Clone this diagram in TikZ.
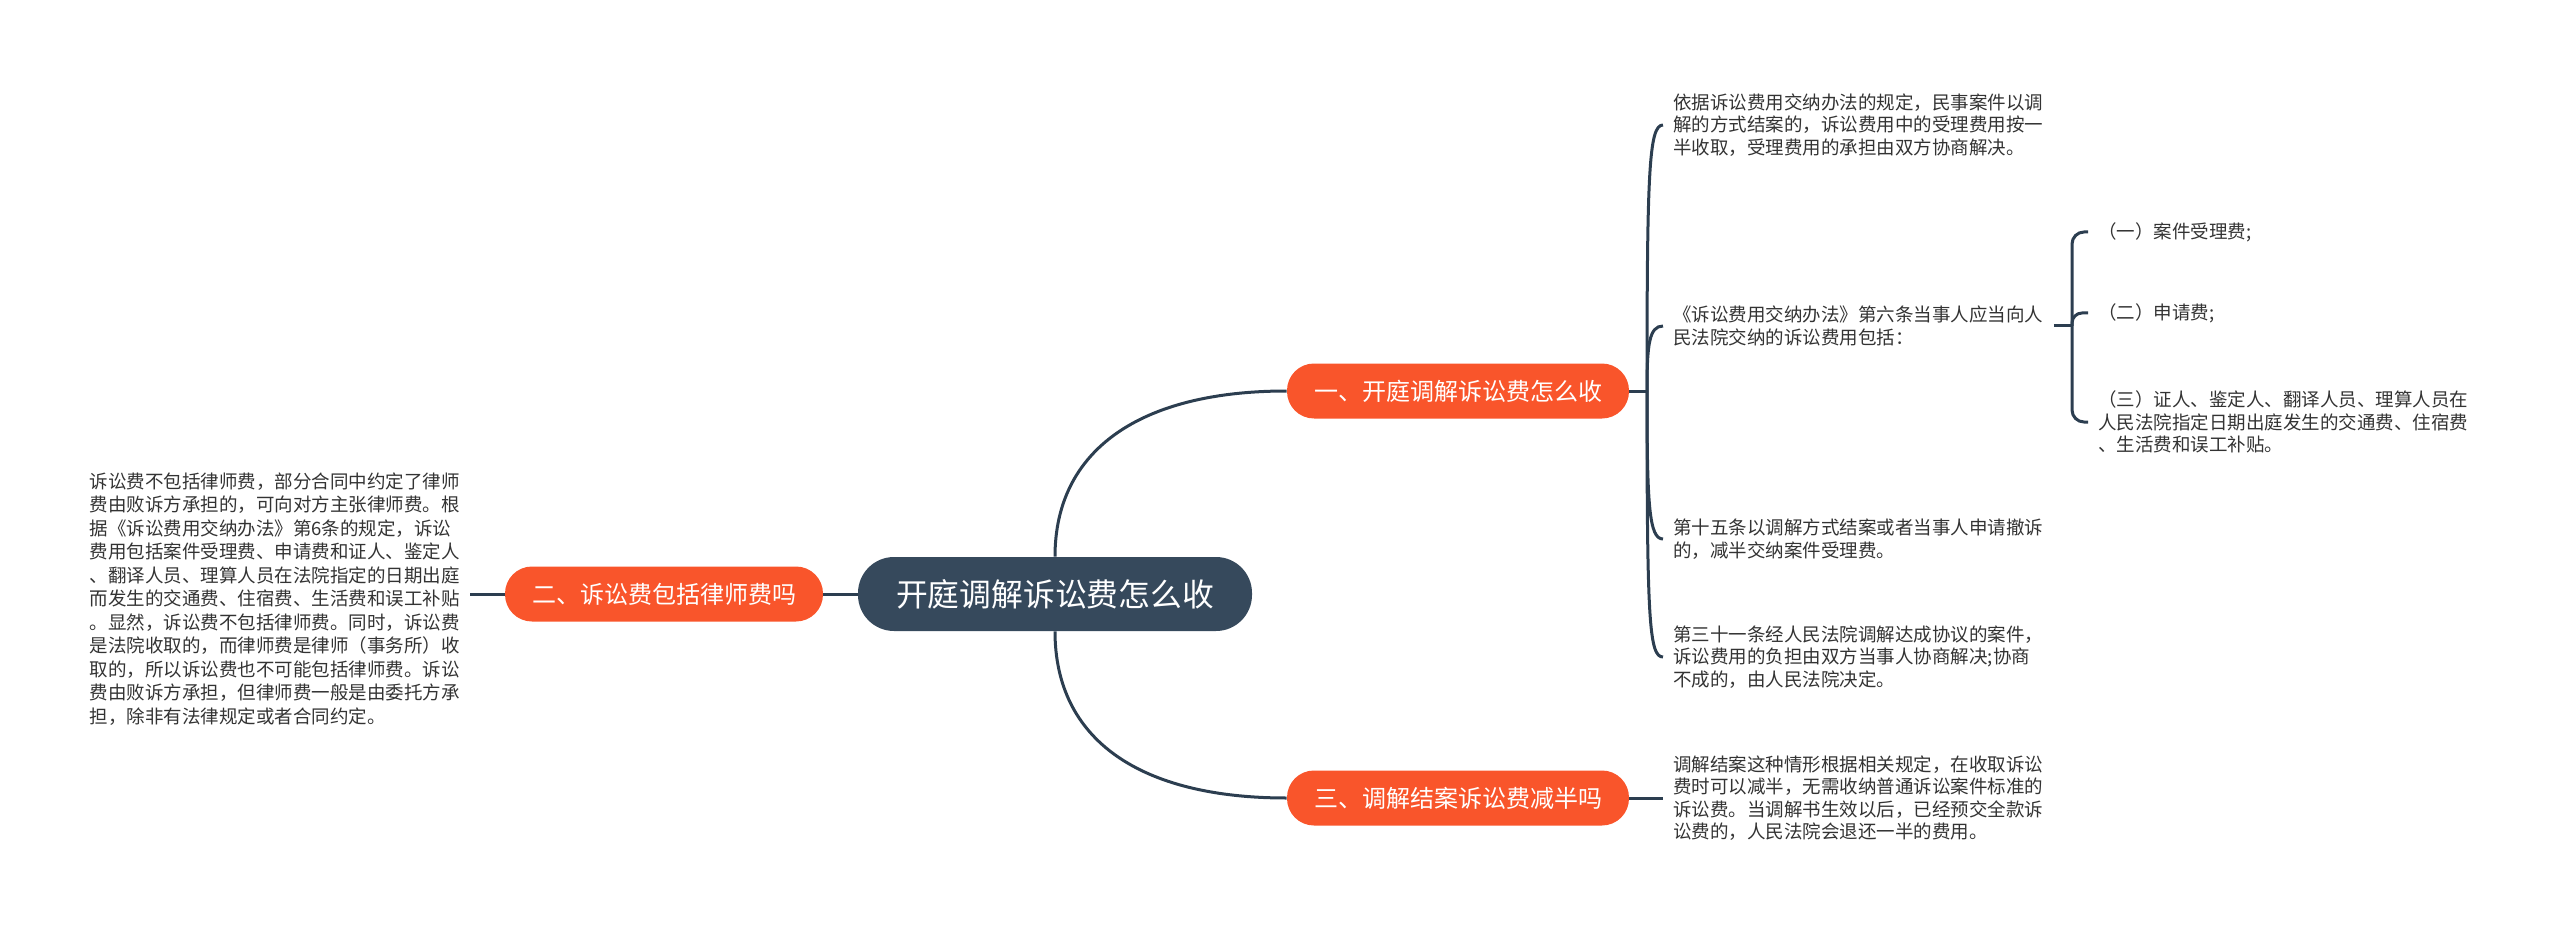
\documentclass[tikz,border=0pt]{standalone}
\usepackage{fontspec}
\newfontfamily\cjk{Noto Sans CJK SC}
\usepackage{tikz}
\definecolor{slate}{HTML}{36495C}
\definecolor{flame}{HTML}{F9552B}
\definecolor{linkcol}{HTML}{2C3E50}
\definecolor{ink}{HTML}{333333}

\begin{document}
\begin{tikzpicture}[x=0.5pt,y=-0.5pt,
  rootbox/.style={fill=slate,text=white,rounded corners=18pt,minimum width=197pt,minimum height=37pt,inner sep=0pt,font={\cjk\fontsize{15.9}{18}\selectfont}},
  branchbox/.style={fill=flame,text=white,rounded corners=13.5pt,minimum height=27.5pt,inner sep=0pt,font={\cjk\fontsize{12}{14}\selectfont}},
  leaftext/.style={text=ink,align=left,anchor=west,inner xsep=5pt,inner ysep=0pt,font={\cjk\fontsize{9.25}{11.25}\selectfont}},
  link/.style={draw=linkcol,line width=1.5pt}]
\useasboundingbox (0,0) rectangle (2560,936);

%root
\node[rootbox] (root) at (1055,594) {开庭调解诉讼费怎么收};

%branches
\node[branchbox,minimum width=171pt] (bOne) at (1458,391) {一、开庭调解诉讼费怎么收};
\node[branchbox,minimum width=159pt] (bTwo) at (664,594) {二、诉讼费包括律师费吗};
\node[branchbox,minimum width=171pt] (bThree) at (1458,798) {三、调解结案诉讼费减半吗};

%left text
\node[leaftext,anchor=east,font={\cjk\fontsize{9.25}{11.75}\selectfont}] (lText) at (470,599) {诉讼费不包括律师费，部分合同中约定了律师\\
费由败诉方承担的，可向对方主张律师费。根\\
据《诉讼费用交纳办法》第6条的规定，诉讼\\
费用包括案件受理费、申请费和证人、鉴定人\\
、翻译人员、理算人员在法院指定的日期出庭\\
而发生的交通费、住宿费、生活费和误工补贴\\
。显然，诉讼费不包括律师费。同时，诉讼费\\
是法院收取的，而律师费是律师（事务所）收\\
取的，所以诉讼费也不可能包括律师费。诉讼\\
费由败诉方承担，但律师费一般是由委托方承\\
担，除非有法律规定或者合同约定。};

%right texts
\node[leaftext] (tOne) at (1663,125) {依据诉讼费用交纳办法的规定，民事案件以调\\
解的方式结案的，诉讼费用中的受理费用按一\\
半收取，受理费用的承担由双方协商解决。};
\node[leaftext] (tTwo) at (1663,326) {《诉讼费用交纳办法》第六条当事人应当向人\\
民法院交纳的诉讼费用包括：};
\node[leaftext] (tThree) at (1663,539) {第十五条以调解方式结案或者当事人申请撤诉\\
的，减半交纳案件受理费。};
\node[leaftext] (tFour) at (1663,657) {第三十一条经人民法院调解达成协议的案件，\\
诉讼费用的负担由双方当事人协商解决;协商\\
不成的，由人民法院决定。};
\node[leaftext] (tFive) at (1663,798) {调解结案这种情形根据相关规定，在收取诉讼\\
费时可以减半，无需收纳普通诉讼案件标准的\\
诉讼费。当调解书生效以后，已经预交全款诉\\
讼费的，人民法院会退还一半的费用。};

%fee items
\node[leaftext] (sOne) at (2088,232) {（一）案件受理费;};
\node[leaftext] (sTwo) at (2088,313) {（二）申请费;};
\node[leaftext] (sThree) at (2088,422) {（三）证人、鉴定人、翻译人员、理算人员在\\
人民法院指定日期出庭发生的交通费、住宿费\\
、生活费和误工补贴。};

%links
\draw[link] (root.north) .. controls (1055,450) and (1140,391) .. (bOne.west);
\draw[link] (root.south) .. controls (1055,740) and (1140,798) .. (bThree.west);
\draw[link] (root.west) -- (bTwo.east);
\draw[link] (bTwo.west) -- (bTwo.west -| lText.east);
\draw[link] (bThree.east) -- (tFive.west);

\coordinate (jOne) at (1647,391);
\draw[link] (bOne.east) -- (jOne);
\draw[link] (jOne) .. controls (1647,170) and (1649,125) .. (tOne.west);
\draw[link] (jOne) .. controls (1647,345) and (1649,326) .. (tTwo.west);
\draw[link] (jOne) .. controls (1647,505) and (1649,539) .. (tThree.west);
\draw[link] (jOne) .. controls (1647,620) and (1649,657) .. (tFour.west);

\coordinate (jTwo) at (2072,326);
\draw[link] (tTwo.east) -- (jTwo);
\draw[link,rounded corners=6pt] (jTwo) |- (sOne.west);
\draw[link,rounded corners=5pt] (jTwo) |- (sTwo.west);
\draw[link,rounded corners=6pt] (jTwo) |- (sThree.west);

\end{tikzpicture}
\end{document}
